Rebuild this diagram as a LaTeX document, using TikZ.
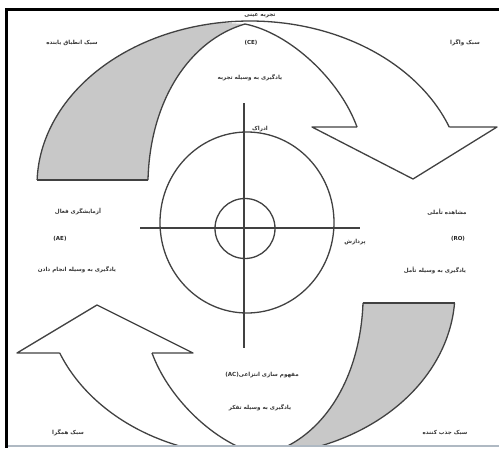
\documentclass[tikz,border=0pt]{standalone}
\usepackage{fontspec}
\newfontfamily\fafont[Script=Arabic]{DejaVu Sans}
\newfontfamily\labfont{DejaVu Sans}
\TeXXeTstate=1
\newcommand\faR[1]{{\fafont\bfseries\beginR #1\endR}}
\definecolor{lncol}{RGB}{65,65,65}
\definecolor{shcol}{RGB}{200,200,200}
\definecolor{botline}{RGB}{175,185,195}
\begin{document}
\begin{tikzpicture}[x=1pt,y=-1pt,
  ln/.style={draw=lncol, line width=1.3pt, line join=round},
  sh/.style={fill=shcol},
  fa/.style={font=\fontsize{5.6}{7}\selectfont, inner sep=0pt, text=black!80},
  lat/.style={font=\labfont\bfseries\fontsize{5.5}{6}\selectfont, inner sep=0pt, text=black!85}]
\useasboundingbox (0,0) rectangle (499,450);
\fill[white] (0,0) rectangle (499,450);
\begin{scope}
\clip (7.5,10) rectangle (499,445.5);
% ---- upper curved arrow ----
\fill[sh] plot[domain=181.75:262, samples=60] ({250+213*cos(\x)},{185+164*sin(\x)})
  -- (245,24) .. controls (190,40) and (150,100) .. (148,180) -- cycle;
\draw[ln] plot[domain=181.75:339.3, samples=120] ({250+213*cos(\x)},{185+164*sin(\x)});
\draw[ln] (37,180) -- (148,180);
\draw[ln] (148,180) .. controls (150,100) and (190,40) .. (245,24)
  .. controls (290,33) and (340,80) .. (357,127);
\draw[ln] (449.3,127) -- (497,127) -- (413,179) -- (312,127) -- (357,127);
% ---- lower curved arrow ----
\fill[sh] plot[domain=3.85:80, samples=60] ({250+205*cos(\x)},{292+164*sin(\x)})
  -- (263,455) .. controls (320,442) and (360,382) .. (363,303) -- cycle;
\draw[ln] plot[domain=3.85:158.2, samples=120] ({250+205*cos(\x)},{292+164*sin(\x)});
\draw[ln] (152,353) .. controls (170,402) and (220,447) .. (263,455)
  .. controls (320,442) and (360,382) .. (363,303);
\draw[ln] (363,303) -- (454.5,303);
\draw[ln] (59.7,353) -- (17,353) -- (97,305) -- (193,353) -- (152,353);
\end{scope}
% ---- centre target ----
\draw[ln] (247,222.5) ellipse [x radius=87, y radius=90.5];
\draw[ln] (245,228.5) circle [radius=30];
\coordinate (vt) at (244,103);
\coordinate (vb) at (244,348);
\coordinate (hl) at (140,228);
\coordinate (hr) at (360,228);
\draw[ln] (vt) -- (vb);
\draw[ln] (hl) -- (hr);
% ---- frame ----
\draw[line width=2.6pt, black] (6.5,8.2) -- (6.5,448);
\draw[line width=2.6pt, black] (5.2,9.5) -- (499,9.5);
\draw[line width=1.6pt, botline] (7.8,446) -- (499,446);
% ---- texts ----
\node[fa] (t1) at (260,16) {\faR{تجربه عینی}};
\node[fa] (t2) at (72,43) {\faR{سبک انطباق یابنده}};
\node[lat] (t3) at (251,43) {(CE)};
\node[fa] (t4) at (465,43) {\faR{سبک واگرا}};
\node[fa] (t5) at (250,78) {\faR{یادگیری به وسیله تجربه}};
\node[fa] (t6) at (78,212) {\faR{آزمایشگری فعال}};
\node[lat] (t7) at (60,239) {(AE)};
\node[fa] (t8) at (77,270) {\faR{یادگیری به وسیله انجام دادن}};
\node[fa] (t9) at (447,212) {\faR{مشاهده تأملی}};
\node[lat] (t10) at (458,239) {(RO)};
\node[fa] (t11) at (435,270) {\faR{یادگیری به وسیله تأمل}};
\node[fa] (t12) at (355,242) {\faR{پردازش}};
\node[fa] (t13) at (260,129) {\faR{ادراک}};
\node[fa] (t14) at (262,375) {{\fafont\bfseries\beginR مفهوم سازی انتزاعی\beginL{\labfont\bfseries(AC)}\endL\endR}};
\node[fa] (t15) at (260,408) {\faR{یادگیری به وسیله تفکر}};
\node[fa] (t16) at (68,433) {\faR{سبک همگرا}};
\node[fa] (t17) at (445,433) {\faR{سبک جذب کننده}};
\end{tikzpicture}
\end{document}
